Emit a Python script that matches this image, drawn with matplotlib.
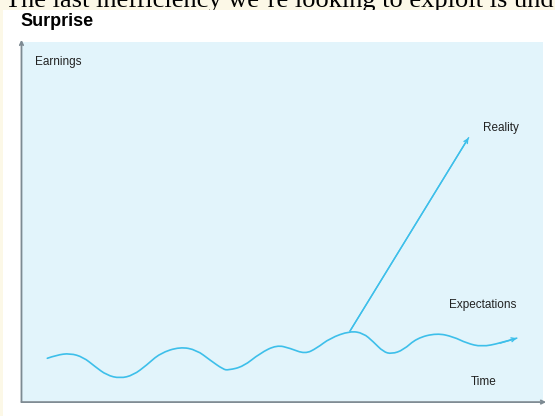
import matplotlib
matplotlib.use("Agg")
import matplotlib.pyplot as plt
from matplotlib.patches import Rectangle, PathPatch
from matplotlib.path import Path

# Expectations curve (time, earnings)
time = [4.86, 6.66, 9.21, 11.77, 14.01, 16.26, 18.81, 21.36, 23.93, 26.49,
        30.33, 33.53, 36.08, 38.64, 39.60, 42.48, 45.68, 48.89, 51.44, 54.32,
        56.56, 59.12, 62.96, 65.51, 67.43, 69.35, 70.96, 73.19, 75.76, 79.60,
        82.78, 85.36, 88.23, 91.75, 94.95]
expectations = [11.9, 12.8, 13.3, 12.2, 9.6, 7.2, 6.3, 7.2, 10.0, 13.3,
                15.1, 14.2, 11.4, 8.8, 8.6, 9.6, 13.3, 15.6, 14.7, 13.1,
                14.7, 17.5, 19.5, 18.9, 16.5, 13.7, 13.1, 14.2, 17.5, 18.9,
                17.9, 16.1, 15.1, 16.1, 17.5]

# Reality branch
reality_time = [62.96, 85.7]
reality = [19.5, 73.3]

HEADLINE = "The last inefficiency we\u2019re looking to exploit is und"
TITLE = "Surprise"

CREAM = "#fcf8e7"
PANEL = "#e2f4fb"
LINE = "#3dbfea"
AXIS = "#7d8a92"
TEXT = "#222222"

W, H = 555, 416
fig = plt.figure(figsize=(W / 100, H / 100), dpi=100, facecolor=CREAM)

fig.text(5 / W, 1 - 7 / H, HEADLINE, family="Liberation Serif", fontsize=19,
         color="black", va="baseline", ha="left", zorder=0.5)
fig.patches.append(Rectangle((3 / W, 0), 1, 1 - 9.5 / H, transform=fig.transFigure,
                             facecolor="white", edgecolor="none", zorder=1))
fig.text(20 / W, 1 - 26 / H, TITLE, family="Liberation Sans", fontsize=13,
         fontweight="bold", color="black", va="baseline", ha="left", zorder=6)

ax = fig.add_axes([22 / W, 15 / H, 521 / W, 359 / H], zorder=2)
ax.set_facecolor(PANEL)
ax.set_xlim(0, 100)
ax.set_ylim(0, 100)
for s in ax.spines.values():
    s.set_visible(False)
ax.set_xticks([])
ax.set_yticks([])

# axes with arrows
arr = dict(arrowstyle="->", color=AXIS, lw=1.3, shrinkA=0, shrinkB=0,
           mutation_scale=6)
ax.annotate("", xy=(-0.001, 1.006), xytext=(-0.001, -0.003), xycoords="axes fraction",
            arrowprops=arr, annotation_clip=False)
ax.annotate("", xy=(1.006, -0.003), xytext=(-0.001, -0.003), xycoords="axes fraction",
            arrowprops=arr, annotation_clip=False)

# smooth expectations curve: read points as quadratic bezier controls
pts = list(zip(time, expectations))
verts = [pts[0]]
codes = [Path.MOVETO]
for i in range(1, len(pts) - 1):
    mid = ((pts[i][0] + pts[i + 1][0]) / 2, (pts[i][1] + pts[i + 1][1]) / 2)
    if i == len(pts) - 2:
        mid = pts[-1]
    verts += [pts[i], mid]
    codes += [Path.CURVE3, Path.CURVE3]
ax.add_patch(PathPatch(Path(verts, codes), facecolor="none", edgecolor=LINE,
                       lw=1.2, capstyle="round"))

ax.plot(reality_time, reality, color=LINE, lw=1.0)
head = dict(arrowstyle="->", color=LINE, lw=1.0, shrinkA=0, shrinkB=0,
            mutation_scale=7)
ax.annotate("", xy=(time[-1], expectations[-1]), xytext=(time[-2], expectations[-2]),
            arrowprops=head)
ax.annotate("", xy=(reality_time[1], reality[1]), xytext=(reality_time[0], reality[0]),
            arrowprops=head)

lab = dict(family="Liberation Sans", fontsize=8.5, color=TEXT, va="center", ha="left")
ax.text(2.5, 94.4, "Earnings", **lab)
ax.text(88.4, 76.0, "Reality", **lab)
ax.text(82.0, 26.7, "Expectations", **lab)
ax.text(86.2, 5.3, "Time", **lab)

fig.savefig("out.png", dpi=100, facecolor=CREAM)
